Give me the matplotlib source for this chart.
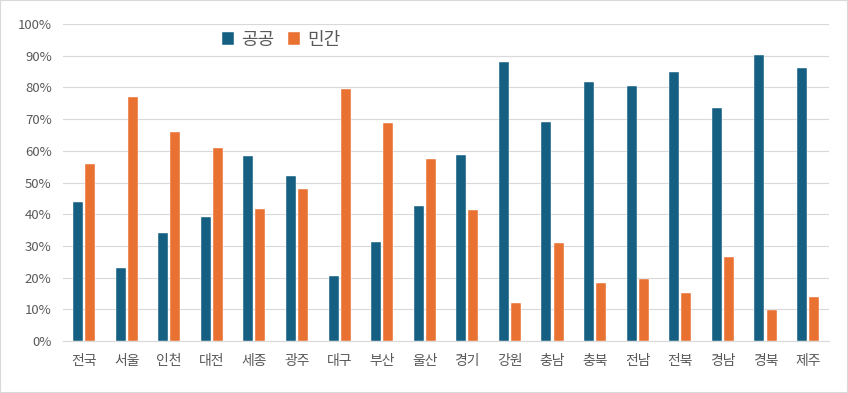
import numpy as np
import matplotlib.pyplot as plt
from matplotlib.patches import Rectangle
from matplotlib.ticker import PercentFormatter

plt.rcParams['font.family'] = ['Noto Sans CJK KR', 'DejaVu Sans']

regions = ["전국", "서울", "인천", "대전", "세종", "광주", "대구", "부산", "울산",
           "경기", "강원", "충남", "충북", "전남", "전북", "경남", "경북", "제주"]
public = [44.0, 23.0, 34.2, 39.0, 58.4, 52.0, 20.5, 31.3, 42.5,
          58.6, 88.0, 69.0, 81.6, 80.4, 84.7, 73.4, 90.3, 86.0]
private = [56.0, 77.0, 65.8, 61.0, 41.6, 48.0, 79.5, 68.7, 57.5,
           41.4, 12.0, 31.0, 18.4, 19.6, 15.3, 26.6, 9.7, 14.0]

blue = "#156082"
orange = "#E97132"
text_color = "#595959"

fig = plt.figure(figsize=(8.48, 3.93), dpi=100)
ax = fig.add_axes([0.074, 0.132, 0.904, 0.807])

x = np.arange(len(regions))
w = 0.235
ax.bar(x - w / 2 - 0.025, public, w, color=blue, label="공공", zorder=3,
       edgecolor="white", linewidth=0.3)
ax.bar(x + w / 2 + 0.025, private, w, color=orange, label="민간", zorder=3,
       edgecolor="white", linewidth=0.3)

ax.set_xlim(-0.5, len(regions) - 0.5)
ax.set_ylim(0, 100)
ax.set_yticks(np.arange(0, 101, 10))
ax.yaxis.set_major_formatter(PercentFormatter(decimals=0))
ax.set_xticks(x)
ax.set_xticklabels(regions)
ax.tick_params(axis="x", length=0, labelsize=10, colors=text_color, pad=9)
ax.tick_params(axis="y", length=0, labelsize=9.5, colors=text_color, pad=8)
ax.grid(axis="y", color="#d9d9d9", linewidth=0.8, zorder=0)
for side in ["top", "right", "left"]:
    ax.spines[side].set_visible(False)
ax.spines["bottom"].set_color("#d9d9d9")

leg = ax.legend(loc="center", bbox_to_anchor=(0.285, 0.95), ncol=2, frameon=False,
                fontsize=13, handlelength=0.65, handleheight=0.65,
                handletextpad=0.4, columnspacing=0.8)
for t in leg.get_texts():
    t.set_color(text_color)

fig.patches.append(Rectangle((0, 0), 1, 1, transform=fig.transFigure,
                             fill=False, edgecolor="#d9d9d9", linewidth=1.5))

fig.savefig("out.png", dpi=100)
